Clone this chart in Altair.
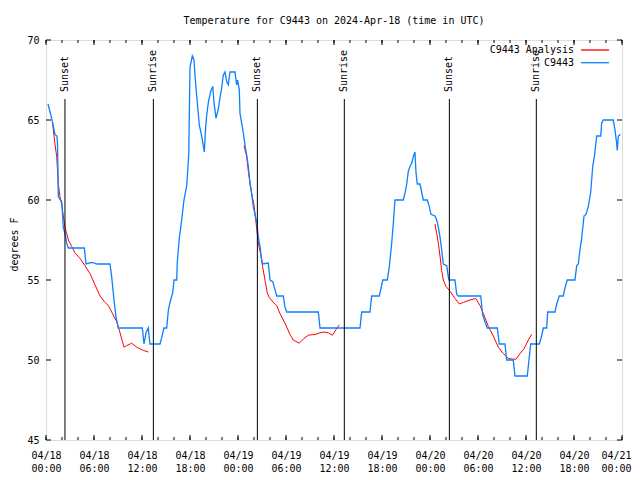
import json
import altair as alt
import pandas as pd

# ---- data ----
blue_hours = [0.25, 0.71, 1.12, 1.37, 1.44, 1.54, 1.96, 2.04, 2.16, 2.37, 2.59, 2.79, 4.79, 5.0, 5.75, 6.4, 8.0,
              8.21, 8.5, 8.75, 9.04, 12.04, 12.25, 12.5, 12.79, 12.88, 13.0, 14.25, 14.46, 14.75, 15.09, 15.29,
              15.5, 15.84, 16.0, 16.34, 16.41, 16.66, 16.96, 17.25, 17.59, 17.84, 18.0, 18.29, 18.5, 18.62, 18.84,
              19.16, 19.46, 19.66, 19.79, 19.96, 20.09, 20.29, 20.59, 20.84, 21.0, 21.25, 21.54, 21.75, 21.96,
              22.16, 22.37, 22.59, 22.79, 23.0, 23.62, 23.84, 23.94, 24.16, 24.25, 24.46, 24.66, 24.91, 25.09,
              25.29, 25.5, 25.71, 25.91, 26.12, 26.34, 26.54, 26.75, 26.96, 27.09, 27.79, 28.0, 28.34, 28.62,
              28.84, 29.66, 29.87, 30.09, 34.04, 34.25, 39.25, 39.46, 40.5, 40.71, 41.66, 41.8, 42.09, 42.66,
              42.91, 43.21, 43.41, 43.62, 44.66, 44.87, 45.09, 45.29, 45.5, 45.71, 45.91, 46.12, 46.25, 46.41,
              46.75, 46.96, 47.16, 47.66, 47.91, 48.12, 48.62, 48.84, 49.04, 49.25, 49.46, 49.66, 50.09, 50.29,
              50.37, 51.12, 51.34, 51.54, 54.34, 54.59, 54.87, 55.16, 56.41, 56.66, 57.37, 57.59, 58.41, 58.62,
              60.16, 60.37, 60.59, 61.66, 61.96, 62.16, 62.59, 62.71, 63.62, 63.84, 64.16, 64.66, 64.87, 65.16,
              66.12, 66.34, 66.54, 66.75, 66.96, 67.25, 67.5, 67.79, 68.09, 68.34, 68.54, 68.84, 69.34, 69.46,
              69.66, 70.91, 71.12, 71.34, 71.41, 71.54, 71.81]
blue_temps = [66.0, 65.1, 64.1, 64.0, 63.5, 60.2, 59.9, 59.4, 58.3, 57.9, 57.3, 57.0, 57.0, 56.0, 56.1, 56.0, 56.0,
              55.2, 53.75, 52.7, 52.0, 52.0, 51.0, 51.7, 52.0, 51.5, 51.0, 51.0, 51.4, 52.0, 52.0, 53.1,
              53.6, 54.2, 55.0, 55.0, 56.1, 57.6, 58.75, 60.0, 60.9, 62.8, 68.3, 69.0, 68.75, 67.8, 66.5,
              64.7, 64.0, 63.4, 63.0, 64.6, 65.3, 66.1, 66.8, 67.1, 66.1, 65.1, 65.7, 66.4, 67.0,
              67.8, 68.0, 67.4, 67.2, 68.0, 68.0, 67.2, 67.5, 66.9, 65.4, 64.8, 64.2, 63.3, 62.8,
              62.1, 61.0, 60.4, 59.6, 59.1, 58.6, 57.7, 57.1, 56.25, 56.0, 56.06, 55.0, 54.9, 54.4,
              54.0, 54.0, 53.3, 53.0, 53.0, 52.0, 52.0, 53.0, 53.0, 54.0, 54.0, 54.3, 55.0, 55.0,
              55.8, 57.3, 58.5, 60.0, 60.0, 60.4, 61.0, 61.8, 62.1, 62.3, 62.7, 63.0, 61.7, 61.0,
              61.0, 60.5, 60.0, 60.0, 59.6, 59.1, 59.0, 58.75, 58.3, 57.7, 56.9, 56.0, 55.9, 55.2,
              55.0, 55.0, 54.1, 54.0, 54.0, 52.8, 52.4, 52.0, 52.0, 51.0, 51.0, 50.0, 50.0, 49.0,
              49.0, 50.0, 51.0, 51.0, 51.5, 52.0, 52.0, 53.0, 53.0, 53.5, 54.0, 54.0, 54.5, 55.0,
              55.0, 55.9, 56.0, 56.9, 57.6, 59.0, 59.1, 59.6, 60.5, 62.1, 62.7, 64.0, 64.0, 64.8,
              65.0, 65.0, 64.4, 63.5, 63.1, 64.0, 64.1]

red_hours = [0.84, 0.91, 1.12, 1.34, 1.54, 1.75, 1.96, 2.37, 2.59, 2.79, 3.21, 3.62, 4.25, 4.87, 5.5, 6.12, 6.75,
             7.37, 7.79, 8.21, 8.84, 9.25, 9.75, 10.09, 10.71, 11.34, 12.16, 12.79,
             24.75, 25.09, 25.29, 25.71, 26.0, 26.34, 26.54, 26.84, 27.09, 27.37, 27.66, 27.91, 28.41, 28.84,
             29.25, 29.87, 30.5, 30.91, 31.66, 32.25, 32.79, 33.62, 34.25, 34.75, 35.29, 35.79, 36.25, 36.66,
             48.62, 48.84, 49.04, 49.25, 49.46, 49.66, 50.0, 50.5, 51.12, 51.66, 52.16, 53.0, 53.71, 54.25,
             54.75, 55.29, 55.91, 56.54, 57.16, 57.79, 58.41, 58.75, 59.25, 59.75, 60.29, 60.71]
red_temps = [64.8, 64.4, 63.5, 62.7, 61.0, 60.2, 59.7, 58.3, 57.9, 57.5, 57.1, 56.7, 56.35, 55.9, 55.4, 54.7, 54.0,
             53.6, 53.4, 53.0, 52.4, 51.7, 50.8, 50.9, 51.05, 50.8, 50.6, 50.5,
             63.4, 62.7, 61.8, 60.4, 59.7, 58.2, 57.3, 56.6, 55.8, 55.0, 54.2, 53.9, 53.6, 53.4,
             52.9, 52.3, 51.6, 51.25, 51.05, 51.35, 51.55, 51.6, 51.7, 51.75, 51.7, 51.55, 51.9, 52.2,
             58.5, 57.9, 57.3, 56.5, 55.6, 55.0, 54.6, 54.3, 53.85, 53.5, 53.6, 53.75, 53.85, 53.4,
             52.8, 52.1, 51.5, 50.8, 50.4, 50.1, 50.05, 50.05, 50.4, 50.7, 51.25, 51.6]
red_segment = [1] * 28 + [2] * 28 + [3] * 26

sun_hours = [2.37, 13.42, 26.42, 37.29, 50.42, 61.29]
sun_labels = ["Sunset", "Sunrise", "Sunset", "Sunrise", "Sunset", "Sunrise"]

tick_dates = ["04/18", "04/18", "04/18", "04/18", "04/19", "04/19", "04/19", "04/19",
              "04/20", "04/20", "04/20", "04/20", "04/21"]
tick_times = ["00:00", "06:00", "12:00", "18:00"] * 3 + ["00:00"]
major_ticks = list(range(0, 73, 6))
minor_ticks = list(range(0, 73, 2))
y_ticks = [45, 50, 55, 60, 65, 70]

series_names = ["C9443 Analysis", "C9443"]
series_colors = ["#ff0000", "#0a80ff"]

title_text = "Temperature for C9443 on 2024-Apr-18 (time in UTC)"
y_title = "degrees F"

FONT = "DejaVu Sans Mono"
W, H = 576, 400

xscale = alt.Scale(domain=[0, 72], nice=False, zero=False)
yscale = alt.Scale(domain=[45, 70], nice=False, zero=False)

label_expr = "[{d}[round(datum.value/6)], {t}[round(datum.value/6)]]".format(
    d=json.dumps(tick_dates), t=json.dumps(tick_times))

xaxis = alt.Axis(values=major_ticks, labelExpr=label_expr, ticks=False, domain=False, grid=False,
                 labelFont=FONT, labelFontSize=10, labelColor="black", labelPadding=10,
                 labelLineHeight=13, labelFlush=False, labelOverlap=False, title=None,
                 labelOffset={"condition": {"test": "datum.value >= 72", "value": -6}, "value": 0})
yaxis = alt.Axis(values=y_ticks, ticks=False, domain=False, grid=False, labelFont=FONT,
                 labelFontSize=10, labelColor="black", labelPadding=7, title=y_title,
                 titleFont=FONT, titleFontSize=10, titleFontWeight="normal", titleColor="black",
                 titleAngle=270, titleX=-32, titleY=204, titleAlign="center", titleBaseline="middle")

blue_df = pd.DataFrame({"h": blue_hours, "t": blue_temps})
red_df = pd.DataFrame({"h": red_hours, "t": red_temps, "seg": red_segment})
sun_df = pd.DataFrame({"h": sun_hours, "label": sun_labels})

red = alt.Chart(red_df).mark_line(color=series_colors[0], strokeWidth=1).encode(
    x=alt.X("h:Q", scale=xscale, axis=xaxis),
    y=alt.Y("t:Q", scale=yscale, axis=yaxis),
    detail="seg:N")

blue = alt.Chart(blue_df).mark_line(color=series_colors[1], strokeWidth=1.3).encode(
    x=alt.X("h:Q", scale=xscale), y=alt.Y("t:Q", scale=yscale))

sun_rules = alt.Chart(sun_df).mark_rule(color="black", strokeWidth=1).encode(
    x=alt.X("h:Q", scale=xscale), y=alt.value(59), y2=alt.value(H))
sun_text = alt.Chart(sun_df).mark_text(angle=270, align="left", baseline="middle", font=FONT,
                                      fontSize=10, color="black").encode(
    x=alt.X("h:Q", scale=xscale), y=alt.value(52), text="label:N")

major_df = pd.DataFrame({"h": major_ticks})
minor_df = pd.DataFrame({"h": minor_ticks})
ytick_df = pd.DataFrame({"t": y_ticks})

tick_layers = []
for df, ln in ((major_df, 5), (minor_df, 3)):
    tick_layers.append(alt.Chart(df).mark_rule(color="black", strokeWidth=1).encode(
        x=alt.X("h:Q", scale=xscale), y=alt.value(H), y2=alt.value(H - ln)))
    tick_layers.append(alt.Chart(df).mark_rule(color="black", strokeWidth=1).encode(
        x=alt.X("h:Q", scale=xscale), y=alt.value(0), y2=alt.value(ln)))
tick_layers.append(alt.Chart(ytick_df).mark_rule(color="black", strokeWidth=1).encode(
    y=alt.Y("t:Q", scale=yscale), x=alt.value(0), x2=alt.value(5)))
tick_layers.append(alt.Chart(ytick_df).mark_rule(color="black", strokeWidth=1).encode(
    y=alt.Y("t:Q", scale=yscale), x=alt.value(W - 5), x2=alt.value(W)))

legend_layers = []
for i, (name, col) in enumerate(zip(series_names, series_colors)):
    ly = 10 + i * 12.7
    ldf = pd.DataFrame({"name": [name]})
    legend_layers.append(alt.Chart(ldf).mark_text(align="right", baseline="middle", font=FONT,
                                                 fontSize=10, color="black").encode(
        x=alt.value(528), y=alt.value(ly), text="name:N"))
    legend_layers.append(alt.Chart(ldf).mark_rule(color=col, strokeWidth=1.3).encode(
        x=alt.value(535), x2=alt.value(563), y=alt.value(ly)))

chart = alt.layer(red, blue, sun_rules, sun_text, *tick_layers, *legend_layers).properties(
    width=W, height=H,
    title=alt.TitleParams(title_text, font=FONT, fontSize=10, fontWeight="normal", color="black",
                          offset=9, anchor="middle"),
    autosize=alt.AutoSizeParams(type="none"),
    padding={"left": 38, "top": 32, "right": 10, "bottom": 32},
).configure_view(stroke="black", strokeWidth=1).configure(background="white")

chart.save("out.html", embed_options={"renderer": "svg", "actions": False})
